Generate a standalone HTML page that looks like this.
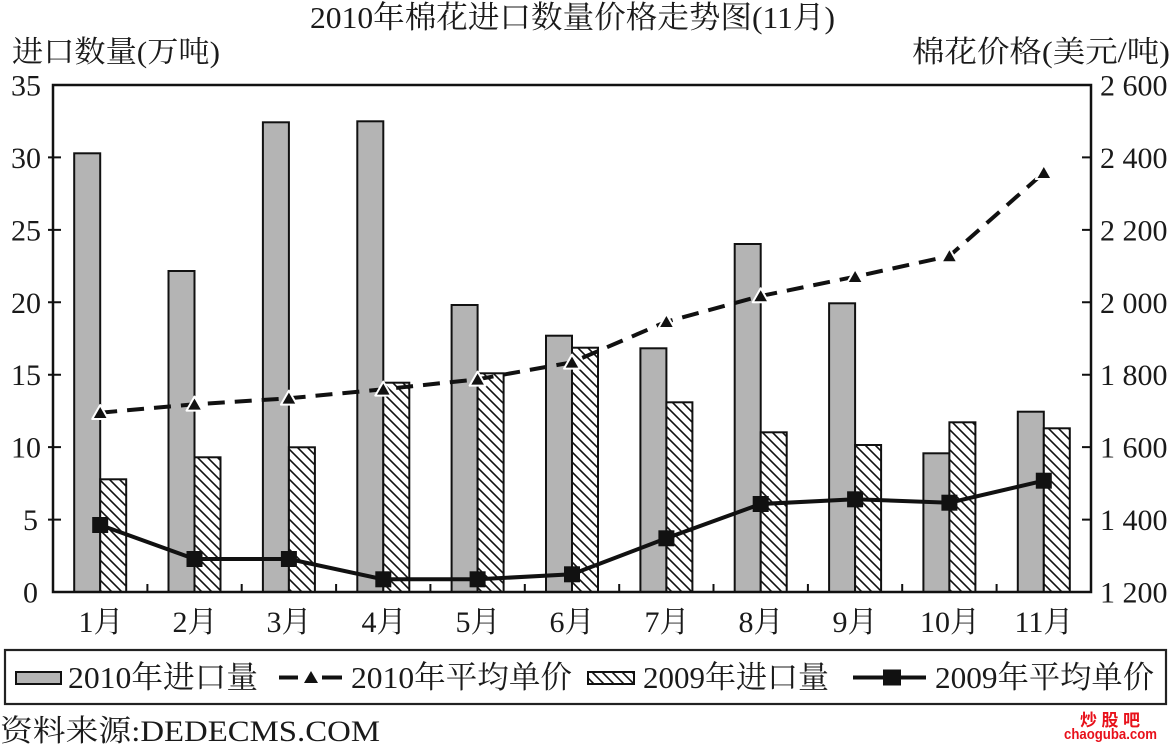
<!DOCTYPE html>
<html><head><meta charset="utf-8"><style>
html,body{margin:0;padding:0;background:#fff;}
svg{display:block;}
text{font-family:"Liberation Serif","Noto Serif CJK SC",serif;fill:#1a1a1a;}
.wm{font-family:"Liberation Sans","Noto Sans CJK SC",sans-serif;font-weight:bold;fill:#e8101a;}
</style></head><body>
<svg width="1172" height="747" viewBox="0 0 1172 747" xmlns="http://www.w3.org/2000/svg">
<defs>
<pattern id="h" width="10" height="10" patternUnits="userSpaceOnUse">
<rect width="10" height="10" fill="#fff"/>
<path d="M-2,-2 L12,12 M-2,8 L2,12 M8,-2 L12,2" stroke="#111" stroke-width="1.6"/>
</pattern>
</defs>
<rect width="1172" height="747" fill="#fff"/>

<!-- Titles -->
<text x="310" y="28" font-size="31" textLength="525" lengthAdjust="spacingAndGlyphs">2010年棉花进口数量价格走势图(11月)</text>
<text x="12" y="62" font-size="30" textLength="208" lengthAdjust="spacingAndGlyphs">进口数量(万吨)</text>
<text x="912" y="62" font-size="30" textLength="258" lengthAdjust="spacingAndGlyphs">棉花价格(美元/吨)</text>

<!-- Left tick labels -->
<g font-size="30" text-anchor="end">
<text x="41" y="95.5">35</text>
<text x="41" y="167.9">30</text>
<text x="41" y="240.4">25</text>
<text x="41" y="312.8">20</text>
<text x="41" y="385.2">15</text>
<text x="41" y="457.6">10</text>
<text x="38" y="530.1">5</text>
<text x="38" y="602.5">0</text>
</g>
<!-- Right tick labels -->
<g font-size="30">
<text x="1100" y="95.5">2 600</text>
<text x="1100" y="167.9">2 400</text>
<text x="1100" y="240.4">2 200</text>
<text x="1100" y="312.8">2 000</text>
<text x="1100" y="385.2">1 800</text>
<text x="1100" y="457.6">1 600</text>
<text x="1100" y="530.1">1 400</text>
<text x="1100" y="602.5">1 200</text>
</g>

<!-- 2010 bars -->
<g fill="#b4b4b4" stroke="#111" stroke-width="2">
<rect x="74.2" y="153.3" width="26" height="438.7"/>
<rect x="168.5" y="271" width="26" height="321"/>
<rect x="262.9" y="122.3" width="26" height="469.7"/>
<rect x="357.3" y="121.3" width="26" height="470.7"/>
<rect x="451.6" y="305" width="26" height="287"/>
<rect x="546" y="335.7" width="26" height="256.3"/>
<rect x="640.4" y="348.3" width="26" height="243.7"/>
<rect x="734.7" y="244" width="26" height="348"/>
<rect x="829.1" y="303.3" width="26" height="288.7"/>
<rect x="923.4" y="453.3" width="26" height="138.7"/>
<rect x="1017.8" y="411.7" width="26" height="180.3"/>
</g>
<!-- 2009 bars -->
<g fill="url(#h)" stroke="#111" stroke-width="2">
<rect x="100.2" y="479.3" width="26" height="112.7"/>
<rect x="194.5" y="457.3" width="26" height="134.7"/>
<rect x="288.9" y="447.3" width="26" height="144.7"/>
<rect x="383.3" y="382.7" width="26" height="209.3"/>
<rect x="477.6" y="373.3" width="26" height="218.7"/>
<rect x="572" y="347.7" width="26" height="244.3"/>
<rect x="666.4" y="402.3" width="26" height="189.7"/>
<rect x="760.7" y="432.3" width="26" height="159.7"/>
<rect x="855.1" y="445" width="26" height="147"/>
<rect x="949.4" y="422.3" width="26" height="169.7"/>
<rect x="1043.8" y="428.3" width="26" height="163.7"/>
</g>

<!-- Frame -->
<rect x="53" y="85" width="1038" height="507" fill="none" stroke="#111" stroke-width="2.5"/>
<!-- ticks -->
<g stroke="#111" stroke-width="2">
<path d="M48,157.4H61 M48,229.9H61 M48,302.3H61 M48,374.7H61 M48,447.1H61 M48,519.6H61"/>
<path d="M1082,157.4H1091 M1082,229.9H1091 M1082,302.3H1091 M1082,374.7H1091 M1082,447.1H1091 M1082,519.6H1091"/>
<path d="M147.4,592V584 M241.7,592V584 M336.1,592V584 M430.4,592V584 M524.8,592V584 M619.2,592V584 M713.5,592V584 M807.9,592V584 M902.2,592V584 M996.6,592V584"/>
</g>

<!-- 2010 price dashed line -->
<polyline points="100.2,412.7 194.5,404.3 288.9,398.3 383.3,389.3 477.6,379.3 572,362.3 666.4,321.7 760.7,296 855.1,276.7 949.4,256 1043.8,172.7" fill="none" stroke="#111" stroke-width="4" stroke-dasharray="17 10"/>
<g fill="#111" stroke="#fff" stroke-width="2" stroke-linejoin="round">
<path d="M92.2,419 L108.2,419 L100.2,405 Z"/>
<path d="M186.5,410.6 L202.5,410.6 L194.5,396.6 Z"/>
<path d="M280.9,404.6 L296.9,404.6 L288.9,390.6 Z"/>
<path d="M375.3,395.6 L391.3,395.6 L383.3,381.6 Z"/>
<path d="M469.6,385.6 L485.6,385.6 L477.6,371.6 Z"/>
<path d="M564,368.6 L580,368.6 L572,354.6 Z"/>
<path d="M658.4,328 L674.4,328 L666.4,314 Z"/>
<path d="M752.7,302.3 L768.7,302.3 L760.7,288.3 Z"/>
<path d="M847.1,283 L863.1,283 L855.1,269 Z"/>
<path d="M941.4,262.3 L957.4,262.3 L949.4,248.3 Z"/>
<path d="M1035.8,179 L1051.8,179 L1043.8,165 Z"/>
</g>

<!-- 2009 price solid line -->
<polyline points="100.2,525 194.5,559 288.9,559 383.3,579.3 477.6,579.3 572,574.3 666.4,538.3 760.7,504 855.1,499.3 949.4,502.7 1043.8,480.7" fill="none" stroke="#111" stroke-width="4"/>
<g fill="#111">
<rect x="92.2" y="517" width="16" height="16"/>
<rect x="186.5" y="551" width="16" height="16"/>
<rect x="280.9" y="551" width="16" height="16"/>
<rect x="375.3" y="571.3" width="16" height="16"/>
<rect x="469.6" y="571.3" width="16" height="16"/>
<rect x="564" y="566.3" width="16" height="16"/>
<rect x="658.4" y="530.3" width="16" height="16"/>
<rect x="752.7" y="496" width="16" height="16"/>
<rect x="847.1" y="491.3" width="16" height="16"/>
<rect x="941.4" y="494.7" width="16" height="16"/>
<rect x="1035.8" y="472.7" width="16" height="16"/>
</g>

<!-- Month labels -->
<g font-size="30" text-anchor="middle">
<text x="101" y="632">1月</text>
<text x="195" y="632">2月</text>
<text x="289" y="632">3月</text>
<text x="384" y="632">4月</text>
<text x="478" y="632">5月</text>
<text x="572" y="632">6月</text>
<text x="667" y="632">7月</text>
<text x="761" y="632">8月</text>
<text x="855" y="632">9月</text>
<text x="950" y="632">10月</text>
<text x="1044" y="632">11月</text>
</g>

<!-- Legend -->
<rect x="5" y="650" width="1161" height="54" fill="none" stroke="#222" stroke-width="2.2"/>
<rect x="16" y="672" width="45" height="12" fill="#b4b4b4" stroke="#111" stroke-width="2"/>
<text x="68" y="688" font-size="31" textLength="190" lengthAdjust="spacingAndGlyphs">2010年进口量</text>
<path d="M279,677.5H298 M322,677.5H342" stroke="#111" stroke-width="4"/>
<path d="M304,683 L318,683 L311,671 Z" fill="#111"/>
<text x="351" y="688" font-size="31" textLength="221" lengthAdjust="spacingAndGlyphs">2010年平均单价</text>
<rect x="588" y="672" width="46" height="12" fill="url(#h)" stroke="#111" stroke-width="2"/>
<text x="643" y="688" font-size="31" textLength="186" lengthAdjust="spacingAndGlyphs">2009年进口量</text>
<path d="M853,677.5H926" stroke="#111" stroke-width="4"/>
<rect x="883" y="669.5" width="18" height="16" fill="#111"/>
<text x="935" y="688" font-size="31" textLength="219" lengthAdjust="spacingAndGlyphs">2009年平均单价</text>

<!-- Source -->
<text x="0" y="741" font-size="30" textLength="380" lengthAdjust="spacingAndGlyphs">资料来源:DEDECMS.COM</text>

<!-- Watermark -->
<text class="wm" x="1080" y="726" font-size="17" textLength="60" lengthAdjust="spacing">炒股吧</text>
<text class="wm" x="1064" y="739" font-size="14.5" textLength="93" lengthAdjust="spacingAndGlyphs">chaoguba.com</text>
</svg>
</body></html>
